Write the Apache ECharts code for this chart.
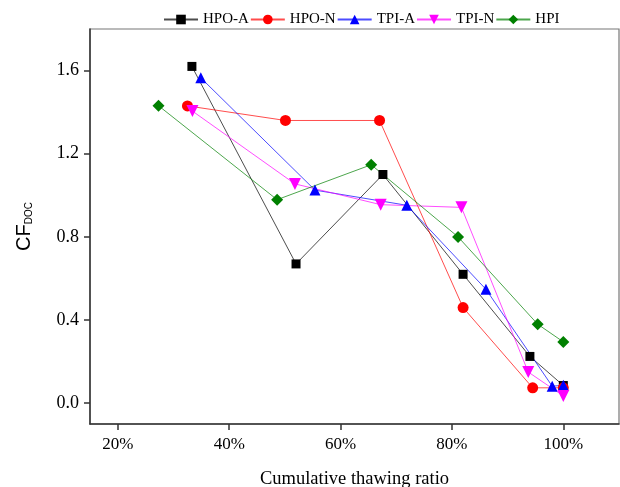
<!DOCTYPE html>
<html>
<head>
<meta charset="utf-8">
<script src="https://cdn.jsdelivr.net/npm/echarts@6/dist/echarts.min.js"></script>
<style>html,body{margin:0;padding:0;background:#fff}#c{width:620px;height:487px}</style>
</head>
<body>
<div id="c"></div>
<script>
var seriesNames = ['HPO-A', 'HPO-N', 'TPI-A', 'TPI-N', 'HPI'];
var hpoA = [[33.3, 1.62], [52.0, 0.67], [67.6, 1.10], [82.0, 0.62], [94.0, 0.225], [100, 0.085]];
var hpoN = [[32.5, 1.43], [50.1, 1.36], [67.0, 1.36], [82.0, 0.46], [94.5, 0.074], [100, 0.074]];
var tpiA = [[34.9, 1.565], [55.4, 1.025], [71.9, 0.952], [86.1, 0.548], [98.0, 0.082], [100, 0.086]];
var tpiN = [[33.4, 1.405], [51.8, 1.055], [67.2, 0.955], [81.7, 0.942], [93.7, 0.15], [100, 0.035]];
var hpi = [[27.3, 1.431], [48.6, 0.979], [65.5, 1.147], [81.1, 0.800], [95.4, 0.380], [100, 0.295]];
var xTicks = [20, 40, 60, 80, 100];
var yTicks = [0, 0.4, 0.8, 1.2, 1.6];

var colors = ['#000000', '#ff0000', '#0000ff', '#ff00ff', '#008000'];
var symbols = ['rect', 'circle', 'triangle', 'path://M0,0 L10,0 L5,10 Z', 'diamond'];
var sizes = [9, 11, 11, 12, 12];
var datas = [hpoA, hpoN, tpiA, tpiN, hpi];

var serif = '"Liberation Serif", "DejaVu Serif", serif';
var chart = echarts.init(document.getElementById('c'));
chart.setOption({
  animation: false,
  color: colors,
  legend: {
    top: 7, left: 158,
    itemWidth: 34, itemHeight: 12, itemGap: 1,
    textStyle: { fontFamily: serif, fontSize: 15, color: '#000' },
    data: seriesNames
  },
  grid: { left: 90, right: 1, top: 29, bottom: 63, show: true, borderColor: '#777', borderWidth: 1.2, containLabel: false, outerBoundsMode: 'none' },
  xAxis: {
    type: 'value', min: 15, max: 110,
    name: 'Cumulative thawing ratio', nameLocation: 'middle', nameGap: 46,
    nameTextStyle: { fontFamily: serif, fontSize: 18.5, color: '#000' },
    axisLine: { show: true, onZero: false, lineStyle: { color: '#333', width: 1.5 } },
    axisTick: { show: true, customValues: xTicks, length: 6, lineStyle: { color: '#333', width: 1.5 } },
    axisLabel: { customValues: xTicks, formatter: function (v) { return v + '%'; }, fontFamily: serif, fontSize: 17, color: '#000', margin: 12 },
    splitLine: { show: false }
  },
  yAxis: {
    type: 'value', min: -0.1, max: 1.8,
    name: '{a|CF}{s|DOC}', nameLocation: 'middle', nameGap: 56, nameRotate: 90,
    nameTextStyle: {
      rich: {
        a: { fontFamily: '"Liberation Sans", Arial, sans-serif', fontSize: 20, color: '#000' },
        s: { fontFamily: '"Liberation Sans", Arial, sans-serif', fontSize: 10, color: '#000', verticalAlign: 'bottom', padding: [8, 0, 0, 0] }
      }
    },
    axisLine: { show: true, onZero: false, lineStyle: { color: '#333', width: 1.5 } },
    axisTick: { show: true, customValues: yTicks, length: 6, lineStyle: { color: '#333', width: 1.5 } },
    axisLabel: { customValues: yTicks, formatter: function (v) { return v.toFixed(1); }, fontFamily: serif, fontSize: 18, color: '#000', margin: 11 },
    splitLine: { show: false }
  },
  series: seriesNames.map(function (n, i) {
    return {
      name: n, type: 'line', data: datas[i],
      symbol: symbols[i], symbolSize: sizes[i],
      lineStyle: { width: 1, color: colors[i], opacity: 0.7 },
      itemStyle: { color: colors[i] }
    };
  })
});
</script>
</body>
</html>
